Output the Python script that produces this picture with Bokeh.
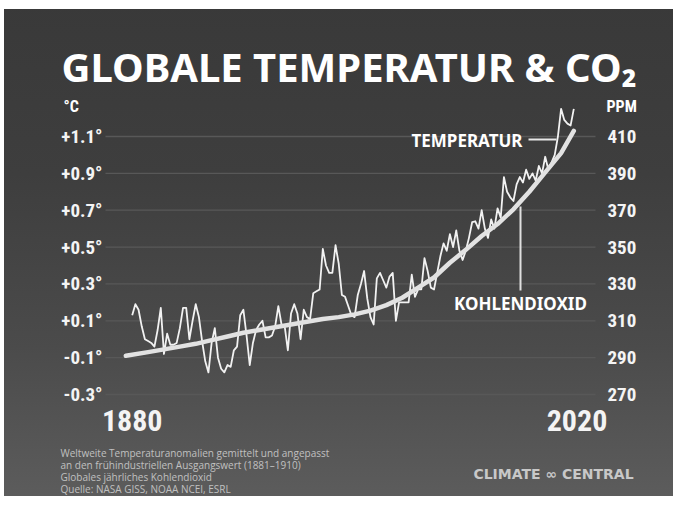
from bokeh.plotting import figure
from bokeh.models import Range1d, Label
from bokeh.embed import file_html
from bokeh.resources import INLINE
from bokeh.core.properties import value

# ---------------- data ----------------
temp_years = list(range(1880, 2020))
temp_anom = [
    0.13, 0.19, 0.16, 0.07, 0.00, -0.01, -0.02, -0.04, 0.05, 0.17,      # 1880s
    -0.08, 0.03, -0.03, -0.03, -0.02, 0.06, 0.17, 0.17, 0.00, 0.10,     # 1890s
    0.19, 0.12, -0.01, -0.12, -0.18, -0.02, 0.06, -0.10, -0.16, -0.18,  # 1900s
    -0.14, -0.15, -0.06, -0.04, 0.13, 0.16, 0.02, -0.14, -0.02, 0.05,   # 1910s
    0.08, 0.10, 0.01, 0.01, 0.02, 0.07, 0.18, 0.08, 0.07, -0.06,        # 1920s
    0.14, 0.19, 0.14, 0.00, 0.16, 0.12, 0.11, 0.25, 0.26, 0.27,         # 1930s
    0.49, 0.40, 0.36, 0.36, 0.51, 0.41, 0.24, 0.23, 0.18, 0.13,         # 1940s
    0.12, 0.24, 0.30, 0.37, 0.22, 0.12, 0.08, 0.33, 0.36, 0.32,         # 1950s
    0.28, 0.34, 0.36, 0.10, 0.20, 0.20, 0.20, 0.20, 0.35, 0.23,         # 1960s
    0.27, 0.27, 0.44, 0.37, 0.28, 0.27, 0.36, 0.45, 0.52, 0.48,         # 1970s
    0.57, 0.50, 0.59, 0.48, 0.43, 0.48, 0.55, 0.635, 0.64, 0.60,        # 1980s
    0.70, 0.60, 0.55, 0.65, 0.60, 0.71, 0.66, 0.88, 0.80, 0.77,         # 1990s
    0.75, 0.84, 0.88, 0.85, 0.92, 0.87, 0.90, 0.86, 0.94, 0.90,         # 2000s
    0.99, 0.92, 0.96, 1.00, 1.10, 1.25, 1.19, 1.17, 1.16, 1.25,         # 2010s
]
co2_years = [1878, 1885, 1890, 1895, 1900, 1905, 1910, 1915, 1920, 1925,
             1930, 1935, 1940, 1945, 1950, 1955, 1960, 1965, 1970, 1975,
             1980, 1985, 1990, 1995, 2000, 2005, 2010, 2015, 2019]
co2_ppm = [291.0, 293.0, 294.5, 296.0, 297.5, 299.5, 301.5, 303.5, 305.0, 306.5,
           308.0, 309.5, 311.0, 312.0, 313.5, 315.5, 318.5, 322.5, 328.0, 333.5,
           341.5, 348.5, 356.0, 362.5, 370.5, 380.0, 390.5, 401.0, 413.0]

temp_ticks = [-0.3, -0.1, 0.1, 0.3, 0.5, 0.7, 0.9, 1.1]
temp_tick_labels = ["-0.3°", "-0.1°", "+0.1°", "+0.3°", "+0.5°", "+0.7°", "+0.9°", "+1.1°"]
ppm_ticks = [270, 290, 310, 330, 350, 370, 390, 410]
ppm_tick_labels = [str(t) for t in ppm_ticks]
year_ticks = [1880, 2020]
year_tick_labels = ["1880", "2020"]

title_text = "GLOBALE TEMPERATUR & CO₂"
note_lines = [
    "Weltweite Temperaturanomalien gemittelt und angepasst",
    "an den frühindustriellen Ausgangswert (1881–1910)",
    "Globales jährliches Kohlendioxid",
    "Quelle: NASA GISS, NOAA NCEI, ESRL",
]

# ---------------- layout helpers (canvas pixel -> data) ----------------
PX_PER_YEAR = 3.177
PX_PER_DEG = 184.3
def X(px):
    return 1880 + (px - 131.7) / PX_PER_YEAR
def Y(py):
    return 1.1 - (py - 136) / PX_PER_DEG

W, H = 673, 496
p = figure(width=W, height=H, output_backend="svg", toolbar_location=None,
           x_range=Range1d(X(0), X(W)), y_range=Range1d(Y(H), Y(0)),
           x_axis_location=None, y_axis_location=None, min_border=0)
p.extra_y_ranges = {"ppm": Range1d(300 + 100 * Y(H), 300 + 100 * Y(0))}
p.grid.visible = False
p.border_fill_color = None
p.background_fill_color = None
p.outline_line_color = None
p.styles = {
    "background": "linear-gradient(180deg, #393939 0%, #3e3e3e 35%, #4b4b4b 70%, #5c5c5c 100%)",
    "box-shadow": "inset 4px 9px 0 0 #ffffff",
}

WHITE = "#f4f4f4"
NARROW = "Roboto Condensed"

# grid lines at the temperature ticks
p.segment(x0=[X(105)] * len(temp_ticks), x1=[X(595)] * len(temp_ticks),
          y0=temp_ticks, y1=temp_ticks, line_color="#585858", line_width=1.3)

# axis tick labels
p.text(x=[X(102)] * len(temp_ticks), y=temp_ticks, text=temp_tick_labels,
       text_font=value(NARROW), text_font_style="bold", text_font_size="19px",
       text_color=WHITE, text_align="right", text_baseline="middle")
p.text(x=[X(607)] * len(ppm_ticks), y=ppm_ticks, text=ppm_tick_labels, y_range_name="ppm",
       text_font=value(NARROW), text_font_style="bold", text_font_size="19px",
       text_color=WHITE, text_align="left", text_baseline="middle")
p.text(x=year_ticks, y=[Y(420)] * len(year_ticks), text=year_tick_labels,
       text_font=value(NARROW), text_font_style="bold", text_font_size="30px",
       text_color=WHITE, text_align="center", text_baseline="middle")

# series
p.line(temp_years, temp_anom, line_color="#f2f2f2", line_width=1.8, line_join="round")
p.line(co2_years, co2_ppm, y_range_name="ppm", line_color="#e2e2e2", line_width=4.5,
       line_cap="round", line_join="round")

# annotation connectors
p.segment(x0=[X(528)], y0=[Y(139)], x1=[X(556)], y1=[Y(139)], line_color="#e8e8e8", line_width=2)
p.segment(x0=[X(520)], y0=[Y(206)], x1=[X(520)], y1=[Y(290)], line_color="#e0e0e0", line_width=2)

def lab(text, px, py, size, font="Noto Sans", style="bold", color="#ffffff",
        align="left", baseline="middle"):
    p.add_layout(Label(x=X(px), y=Y(py), text=text, text_font=font, text_font_style=style,
                       text_font_size=size, text_color=color, text_align=align,
                       text_baseline=baseline))

lab(title_text, 61, 66, "40px")
lab("°C", 63, 106, "16px", font=NARROW)
lab("PPM", 606, 106, "16px", font=NARROW)
lab("TEMPERATUR", 411, 140, "17px")
lab("KOHLENDIOXID", 520, 303, "17px", align="center")
for i, line in enumerate(note_lines):
    lab(line, 60, 452 + 12 * i, "10px", font="Open Sans", style="normal", color="#c0c0c0")
lab("CLIMATE ∞ CENTRAL", 553, 473, "14px", font="DejaVu Sans", color="#c8c8c8", align="center")

open("out.html", "w").write(file_html(p, INLINE))
